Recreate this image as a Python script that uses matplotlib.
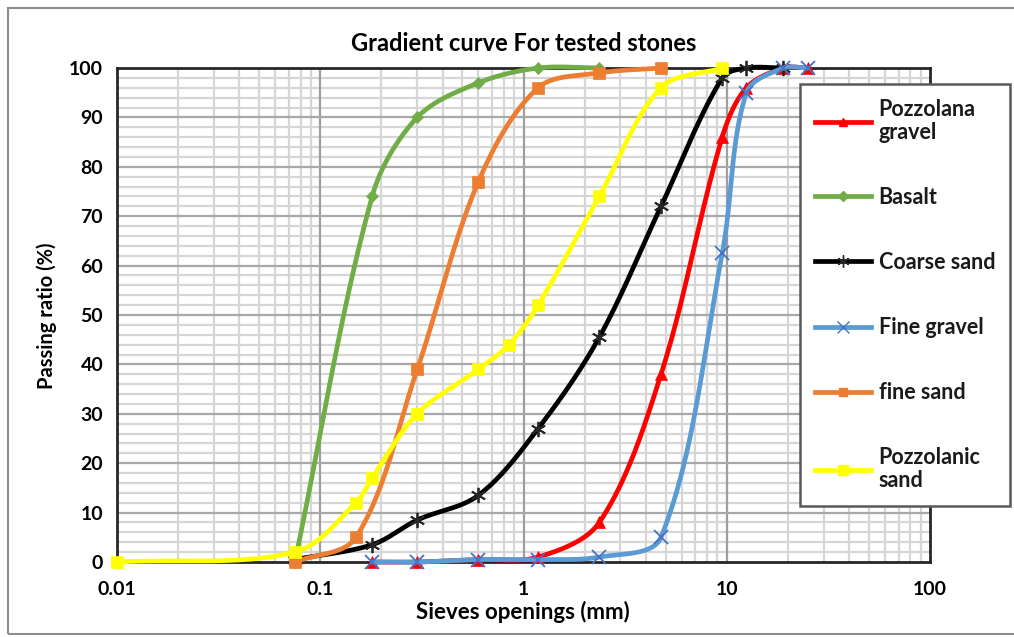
import numpy as np
import matplotlib
matplotlib.use("Agg")
import matplotlib.pyplot as plt
from matplotlib.patches import Rectangle
from matplotlib.ticker import FixedLocator, NullFormatter

plt.rcParams['font.family'] = ['Lato', 'DejaVu Sans']

# ---- data ----
title = "Gradient curve For tested stones"
xlabel = "Sieves openings (mm)"
ylabel = "Passing ratio (%)"

pozz_gravel_x = [0.18, 0.3, 0.6, 1.18, 2.36, 4.75, 9.5, 12.5, 19, 25]
pozz_gravel_y = [0, 0, 0.5, 1, 8, 38, 86, 96, 100, 100]

basalt_x = [0.075, 0.18, 0.3, 0.6, 1.18, 2.36]
basalt_y = [0, 74, 90, 97, 100, 100]

coarse_x = [0.075, 0.18, 0.3, 0.6, 1.18, 2.36, 4.75, 9.5, 12.5, 19]
coarse_y = [0.5, 3.5, 8.5, 13.5, 27, 45.5, 72, 98, 100, 100]

fine_gravel_x = [0.18, 0.3, 0.6, 1.18, 2.36, 4.75, 9.5, 12.5, 19, 25]
fine_gravel_y = [0, 0, 0.5, 0.5, 1, 5, 62.5, 95, 100, 100]

fine_sand_x = [0.075, 0.15, 0.3, 0.6, 1.18, 2.36, 4.75]
fine_sand_y = [0, 5, 39, 77, 96, 99, 100]

pozz_sand_x = [0.01, 0.075, 0.15, 0.18, 0.3, 0.6, 0.85, 1.18, 2.36, 4.75, 9.5]
pozz_sand_y = [0, 2, 12, 17, 30, 39, 44, 52, 74, 96, 100]

labels = ["Pozzolana\ngravel", "Basalt", "Coarse sand", "Fine gravel", "fine sand", "Pozzolanic\nsand"]
colors = ["#FF0000", "#70AD47", "#000000", "#5B9BD5", "#ED7D31", "#FFFF00"]

x_ticks = [0.01, 0.1, 1, 10, 100]
x_ticklabels = ["0.01", "0.1", "1", "10", "100"]
y_ticks = list(range(0, 101, 10))

W, H = 1014, 637
fig = plt.figure(figsize=(W / 100, H / 100), dpi=100)
fig.patch.set_facecolor("white")

# outer chart border
fig.add_artist(Rectangle((8 / W, 3 / H), 1.0, 1 - 11 / H, transform=fig.transFigure,
                         fill=False, edgecolor="#8c8c8c", linewidth=1.5, zorder=0))

ax = fig.add_axes([117 / W, 1 - 562 / H, (930 - 117) / W, (562 - 68) / H])
ax.set_xscale("log")
ax.set_xlim(0.01, 100)
ax.set_ylim(0, 100)


def smooth(xs, ys, n=40):
    """Excel-like smoothing: Bezier with chord-length weighted tangents, in pixel space."""
    pts = np.column_stack([np.asarray(xs, float), np.asarray(ys, float)])
    P = ax.transData.transform(pts)
    m = len(P)
    out = []
    def ctrl(i):
        p = P[i]
        a = P[i - 1] if i > 0 else P[i]
        b = P[i + 1] if i + 1 < m else P[i]
        dp = np.hypot(*(p - a))
        dn = np.hypot(*(b - p))
        T = b - a
        s = dp + dn
        if s == 0:
            return p, p
        cin = p - T * (dp / s) / 3.0
        cout = p + T * (dn / s) / 3.0
        return cin, cout
    C = [ctrl(i) for i in range(m)]
    for i in range(m - 1):
        p1, p2 = P[i], P[i + 1]
        c1 = C[i][1]
        c2 = C[i + 1][0]
        t = np.linspace(0, 1, n, endpoint=(i == m - 2))[:, None]
        bz = ((1 - t) ** 3) * p1 + 3 * ((1 - t) ** 2) * t * c1 + 3 * (1 - t) * t ** 2 * c2 + t ** 3 * p2
        out.append(bz)
    B = ax.transData.inverted().transform(np.vstack(out))
    return B[:, 0], B[:, 1]


# grid (minor first, major on top)
minor_x = [mm * 10.0 ** e for e in range(-2, 2) for mm in range(2, 10)]
for v in minor_x:
    ax.axvline(v, color="#d6d6d6", linewidth=1.6, zorder=0.5)
for v in range(2, 100, 2):
    if v % 10:
        ax.axhline(v, color="#d6d6d6", linewidth=1.6, zorder=0.5)
for v in x_ticks[1:-1]:
    ax.axvline(v, color="#9e9e9e", linewidth=1.6, zorder=0.6)
for v in y_ticks[1:-1]:
    ax.axhline(v, color="#a8a8a8", linewidth=1.6, zorder=0.6)

ax.xaxis.set_major_locator(FixedLocator(x_ticks))
ax.set_xticklabels(x_ticklabels)
ax.xaxis.set_minor_formatter(NullFormatter())
ax.xaxis.set_minor_locator(FixedLocator([]))
ax.set_yticks(y_ticks)
ax.tick_params(which="both", length=0)
ax.tick_params(axis="x", pad=14, labelsize=14)
ax.tick_params(axis="y", pad=10, labelsize=14)
for lbl in ax.get_xticklabels() + ax.get_yticklabels():
    lbl.set_fontweight("bold")
for s in ax.spines.values():
    s.set_color("#262626")
    s.set_linewidth(2)
    s.set_zorder(3)

series = [
    (pozz_gravel_x, pozz_gravel_y, "^", 8, None),
    (basalt_x, basalt_y, "D", 6.5, None),
    (coarse_x, coarse_y, (6, 2, 0), 11, "#262626"),
    (fine_gravel_x, fine_gravel_y, "x", 10, "#4472C4"),
    (fine_sand_x, fine_sand_y, "s", 8, None),
    (pozz_sand_x, pozz_sand_y, "s", 9, None),
]

handles = []
z = 4
for (xs, ys, mk, ms, mec), col, lab in zip(series, colors, labels):
    sx, sy = smooth(xs, ys)
    ax.plot(sx, sy, color=col, linewidth=3.4, solid_capstyle="round", clip_on=False, zorder=z)
    ax.plot(xs, ys, linestyle="none", marker=mk, markersize=ms, color=col,
            markeredgecolor=mec if mec else col, markeredgewidth=1.3 if mec else 0.5,
            clip_on=False, zorder=z + 0.5)
    h, = ax.plot([], [], color=col, linewidth=3.4, marker=mk, markersize=ms * 0.8,
                 markeredgecolor=mec if mec else col, label=lab)
    handles.append(h)
    z += 1

ax.set_title(title, fontsize=17, fontweight="bold", pad=12)
fig.text(47 / W, 1 - 316 / H, ylabel, rotation=90, ha="center", va="center",
         fontsize=14.5, fontweight="bold")
fig.text(523 / W, 1 - 612 / H, xlabel, ha="center", va="center",
         fontsize=16, fontweight="bold")

leg = ax.legend(handles=handles, loc="upper left",
                bbox_to_anchor=(800 / W, 1 - 84 / H), bbox_transform=fig.transFigure,
                frameon=True, fancybox=False, framealpha=1, edgecolor="#595959",
                fontsize=15.5, handlelength=2.6, handletextpad=0.35,
                labelspacing=2.05, borderpad=0.7, borderaxespad=0)
leg.get_frame().set_linewidth(1.8)
leg.set_zorder(20)
for t in leg.get_texts():
    t.set_fontweight("bold")
    t.set_color("#1a1a1a")
    t.set_linespacing(1.1)

fig.savefig("out.png", dpi=100, facecolor="white")
